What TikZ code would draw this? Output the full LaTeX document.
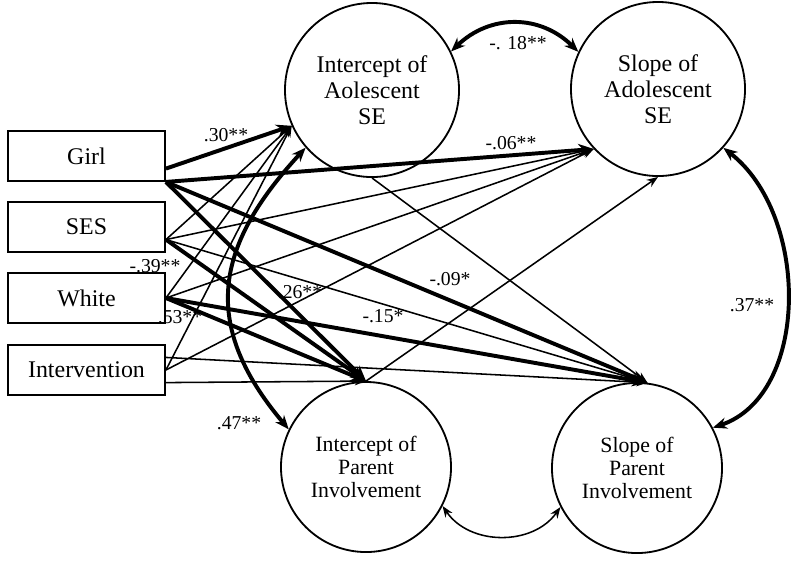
\documentclass[tikz,border=0pt]{standalone}
\usepackage{fontspec}
\setmainfont{Liberation Serif}
\usetikzlibrary{arrows.meta}

\tikzstyle{var} = [draw, line width = 1.3pt, minimum width = 3.925cm, minimum height = 1.25cm, inner sep = 0pt, font = \fontsize{17}{19}\selectfont]
\tikzstyle{factor} = [draw, circle, line width = 1.3pt, minimum size = 4.35cm, inner sep = 0pt, align = center, font = \fontsize{17}{18.5}\selectfont]
\tikzstyle{pfactor} = [factor, minimum size = 4.25cm, font = \fontsize{15.5}{16.5}\selectfont]
\tikzstyle{weak} = [line width = 1.1pt, -{Stealth[length = 8pt, width = 6pt]}]
\tikzstyle{strong} = [line width = 2.8pt, -{Stealth[length = 11pt, width = 9pt]}]
\tikzstyle{cov} = [line width = 2.8pt, {Stealth[length = 10pt, width = 8pt]}-{Stealth[length = 10pt, width = 8pt]}]
\tikzstyle{covthin} = [line width = 1.1pt, {Stealth[length = 8pt, width = 6pt]}-{Stealth[length = 8pt, width = 6pt]}]
\tikzstyle{coef} = [inner sep = 0pt, font = \fontsize{14}{16}\selectfont]

\begin{document}
\begin{tikzpicture}[x = 0.025cm, y = -0.025cm]
  \useasboundingbox (0, 0) rectangle (800, 562);

  % Covariates
  \node[var] (girl)   at (86.5, 156) {Girl};
  \node[var] (ses)    at (86.5, 227) {SES};
  \node[var] (white)  at (86.5, 298) {White};
  \node[var] (interv) at (86.5, 370) {Intervention};

  % Growth factors
  \node[factor]  (iadol) at (372, 90)  {Intercept of\\Aolescent\\SE};
  \node[factor]  (sadol) at (658, 89)  {Slope of\\Adolescent\\SE};
  \node[pfactor] (ipar)  at (366, 467) {Intercept of\\Parent\\Involvement};
  \node[pfactor] (spar)  at (637, 468) {Slope of\\Parent\\Involvement};

  % Girl
  \draw[strong] (girl.-9) -- (iadol.204);
  \draw[strong] (girl.south east) -- (sadol.223);
  \draw[strong] (girl.south east) -- (ipar.90);
  \draw[strong] (girl.south east) -- (spar.83);
  % SES, White, Intervention on the adolescent factors
  \foreach \s/\a in {ses/-9, white/0, interv/0}
  {
    \draw[weak] (\s.\a) -- (iadol.204);
    \draw[weak] (\s.\a) -- (sadol.223);
  }
  \draw[strong] (ses.-9) -- (ipar.90);
  \draw[weak] (ses.-9) -- (spar.83);
  \draw[strong] (white.east) -- (ipar.90);
  \draw[strong] (white.east) -- (spar.83);
  \draw[weak] (interv.-9) -- (ipar.90);
  \draw[weak] (interv.9) -- (spar.83);
  % Cross paths
  \draw[weak] (iadol.270) -- (spar.83);
  \draw[weak] (ipar.90) -- (sadol.270);

  % Covariances
  \draw[cov] (iadol.26) .. controls (490, 14) and (540, 14) .. (sadol.155);
  \draw[cov] (sadol.-42) .. controls (810, 215) and (810, 395) .. (spar.28);
  \draw[cov] (iadol.221) .. controls (216, 245) and (199, 323) .. (ipar.154);
  \draw[covthin] (ipar.-27) .. controls (470, 546) and (533, 546) .. (spar.-153);

  % Estimates
  \node[coef] (c30) at (226, 135) {.30**};
  \node[coef] (c06) at (511, 143) {-.06**};
  \node[coef] (c18) at (518, 43)  {-. 18**};
  \node[coef] (c26) at (300, 292) {.26**};
  \node[coef] (c09) at (450, 279) {-.09*};
  \node[coef] (c15) at (383, 316) {-.15*};
  \node[coef] (c39) at (155, 266) {-.39**};
  \node[coef] (c53) at (180, 317) {.53**};
  \node[coef] (c47) at (239, 423) {.47**};
  \node[coef] (c37) at (752, 305) {.37**};
\end{tikzpicture}
\end{document}
